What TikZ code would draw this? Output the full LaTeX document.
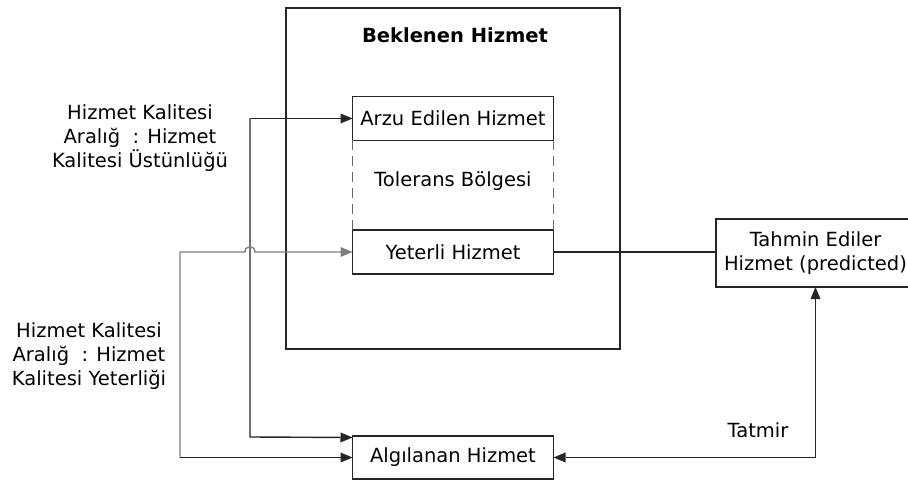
\documentclass[tikz,border=0pt]{standalone}
\usepackage{fontspec}
\setmainfont{DejaVu Sans}
\usetikzlibrary{arrows.meta,calc}
\begin{document}
\begin{tikzpicture}[x=1pt,y=-1pt,
  every node/.style={font=\fontsize{19.5}{24}\selectfont},
  box/.style={draw=black!85,line width=1.4pt,inner sep=0pt,outer sep=0pt,fill=white},
  lbl/.style={align=center,inner sep=0pt},
  conn/.style={line width=1.4pt,draw=black!85},
  grayconn/.style={line width=1.4pt,draw=black!50},
  head/.tip={Triangle[length=12pt,width=10pt,line width=0pt]},
  tip/.style={-head},
  tolerans/.style={line width=1.4pt,draw=black!60,dash pattern=on 10pt off 6pt}]
\clip (0,0) rectangle (908,481);
\fill[white] (0,0) rectangle (908,481);

% outer frame: expected service
\node[box,minimum width=334,minimum height=341] (beklenen) at (453,178.5) {};
\node[lbl,font=\fontsize{19.5}{24}\selectfont\bfseries] (baslik) at (455,35) {Beklenen Hizmet};

% desired / adequate service with the tolerance zone between them
\node[box,minimum width=201,minimum height=44] (arzu) at (453,118.5) {Arzu Edilen Hizmet};
\node[box,minimum width=201,minimum height=44] (yeterli) at (453,252) {Yeterli Hizmet};
\node[lbl] (tolerans) at (453,181) {Tolerans Bölgesi};
\draw[tolerans] (arzu.south west) -- (yeterli.north west);
\draw[tolerans] (arzu.south east) -- (yeterli.north east);

% perceived and predicted service
\node[box,minimum width=201,minimum height=43] (algi) at (453,457.5) {Algılanan Hizmet};
\node[box,minimum width=199,minimum height=68,align=center] (tahmin) at (815.5,253)
  {Tahmin Ediler\\Hizmet (predicted)};

% side labels
\node[lbl] (ustunluk) at (140,138) {Hizmet Kalitesi\\Aralığ~~: Hizmet\\Kalitesi Üstünlüğü};
\node[lbl] (yeterlik) at (89,356) {Hizmet Kalitesi\\Aralığ~~: Hizmet\\Kalitesi Yeterliği};
\node[lbl] (tatmir) at (758,430) {Tatmir};

% connector routing points
\coordinate (u1) at (250,118.5);
\coordinate (u2) at (250,437);
\coordinate (a1) at (180,252);
\coordinate (a2) at (180,457.5);

% desired-service gap line
\draw[conn,tip] (u1) -- (arzu.west);
\draw[conn,tip] (u1) -- (u2) -- ($(algi.north west)+(0,1.5)$);

% adequate-service gap line, hopping over the vertical line
\draw[grayconn,tip] (a2) -- (a1) -- (245,252)
  .. controls (245,245) and (255,245) .. (255,252) -- (yeterli.west);
\draw[conn,tip] (a2) -- (algi.west);

% adequate service to predicted service
\draw[conn] (yeterli.east) -- (yeterli.east -| tahmin.west);

% satisfaction between perceived and predicted service
\draw[conn,head-head] (algi.east) -| (tahmin.south);
\end{tikzpicture}
\end{document}
